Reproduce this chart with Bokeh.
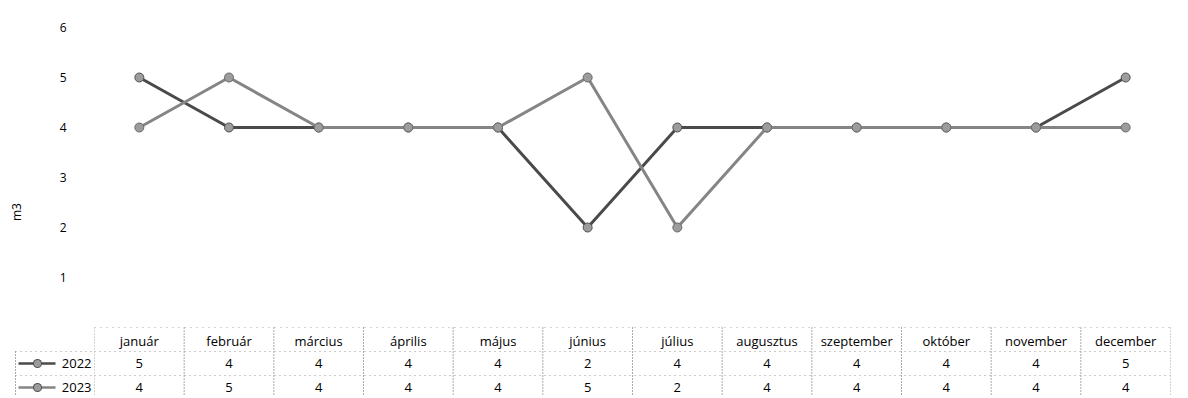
from bokeh.plotting import figure
from bokeh.models import Range1d, FixedTicker
from bokeh.core.properties import value
from bokeh.embed import file_html
from bokeh.resources import INLINE

months = ["január", "február", "március", "április", "május", "június",
          "július", "augusztus", "szeptember", "október", "november", "december"]
v2022 = [5, 4, 4, 4, 4, 2, 4, 4, 4, 4, 4, 5]
v2023 = [4, 5, 4, 4, 4, 5, 2, 4, 4, 4, 4, 4]
series_names = ["2022", "2023"]
y_ticks = [1, 2, 3, 4, 5, 6]
y_label = "m3"

FONT = "Open Sans"
C22 = "#4a4a4a"
C23 = "#858585"
MFILL = "#9c9c9c"
MLINE = "#505050"

n = len(months)
xs = list(range(n))

# table row positions (in y data units, below the value axis)
Y_TOP = 0.0
Y_HEAD = -0.26
Y_R1 = -0.72
Y_R2 = -1.20
Y_B1 = -0.48
Y_B2 = -0.96
Y_BOT = -1.38

p = figure(width=1180, height=396, output_backend="svg", toolbar_location=None,
           x_range=Range1d(-0.5, n - 0.5), y_range=Range1d(-1.38, 6),
           min_border_left=94, min_border_right=10, min_border_top=27,
           min_border_bottom=0)
p.outline_line_color = None
p.xaxis.visible = False
p.xgrid.visible = False
p.ygrid.visible = False
yax = p.yaxis[0]
yax.ticker = FixedTicker(ticks=y_ticks)
yax.axis_line_color = None
yax.major_tick_line_color = None
yax.minor_tick_line_color = None
yax.major_tick_out = 0
yax.major_tick_in = 0
yax.minor_tick_out = 0
yax.major_label_standoff = 28
yax.major_label_text_font = FONT
yax.major_label_text_font_size = "12px"
yax.major_label_text_color = "#000000"
yax.axis_label = y_label
yax.axis_label_text_font = FONT
yax.axis_label_text_font_size = "12px"
yax.axis_label_text_font_style = "normal"
yax.axis_label_text_color = "#000000"
yax.axis_label_standoff = 32

# series
p.line(xs, v2022, line_color=C22, line_width=3)
p.scatter(xs, v2022, size=9, fill_color=MFILL, line_color=MLINE, line_width=1)
p.line(xs, v2023, line_color=C23, line_width=3)
p.scatter(xs, v2023, size=9, fill_color=MFILL, line_color="#6a6a6a", line_width=1)

# ---- data table ----
ppu = 1076 / n
label_border = -0.5 - 79 / ppu

vx = [i - 0.5 for i in range(n + 1)]
p.segment(x0=vx, y0=[Y_TOP] * len(vx), x1=vx, y1=[Y_BOT] * len(vx),
          line_color="#555555", line_width=1, line_dash="1 2")
p.segment(x0=[-0.5, -0.5], y0=[Y_B1, Y_B2], x1=[n - 0.5, n - 0.5], y1=[Y_B1, Y_B2],
          line_color="#999999", line_width=1, line_dash="1 4")
p.segment(x0=[-0.5], y0=[Y_TOP], x1=[n - 0.5], y1=[Y_TOP],
          line_color="#aaaaaa", line_width=1, line_dash="1 5")

p.text(x=xs, y=[Y_HEAD] * n, text=months, text_align="center", text_baseline="middle",
       text_font=value(FONT), text_font_size="13px", text_color="#000000")
p.text(x=xs, y=[Y_R1] * n, text=[str(v) for v in v2022], text_align="center",
       text_baseline="middle", text_font=value(FONT), text_font_size="13px",
       text_color="#000000")
p.text(x=xs, y=[Y_R2] * n, text=[str(v) for v in v2023], text_align="center",
       text_baseline="middle", text_font=value(FONT), text_font_size="13px",
       text_color="#000000")

# label column (left of the frame) drawn at overlay level
kx0 = -0.5 - 76 / ppu
kx1 = -0.5 - 39 / ppu
kxm = -0.5 - 57 / ppu
p.segment(x0=[label_border], y0=[Y_B1], x1=[label_border], y1=[Y_BOT],
          line_color="#555555", line_width=1, line_dash="1 2", level="overlay")
p.segment(x0=[label_border, label_border], y0=[Y_B1, Y_B2], x1=[-0.5, -0.5],
          y1=[Y_B1, Y_B2], line_color="#999999", line_width=1, line_dash="1 4",
          level="overlay")
p.segment(x0=[kx0], y0=[Y_R1], x1=[kx1], y1=[Y_R1], line_color=C22, line_width=2.5,
          level="overlay")
p.segment(x0=[kx0], y0=[Y_R2], x1=[kx1], y1=[Y_R2], line_color=C23, line_width=2.5,
          level="overlay")
# legend markers as round-capped dots
p.segment(x0=[kxm, kxm], y0=[Y_R1, Y_R2], x1=[kxm, kxm], y1=[Y_R1, Y_R2],
          line_color=MLINE, line_width=9, line_cap="round", level="overlay")
p.segment(x0=[kxm, kxm], y0=[Y_R1, Y_R2], x1=[kxm, kxm], y1=[Y_R1, Y_R2],
          line_color=MFILL, line_width=7, line_cap="round", level="overlay")
p.text(x=[-0.5 - 3 / ppu] * 2, y=[Y_R1, Y_R2], text=series_names,
       text_align="right", text_baseline="middle", text_font=value(FONT),
       text_font_size="13px", text_color="#000000", level="overlay")

open("out.html", "w").write(file_html(p, INLINE))
